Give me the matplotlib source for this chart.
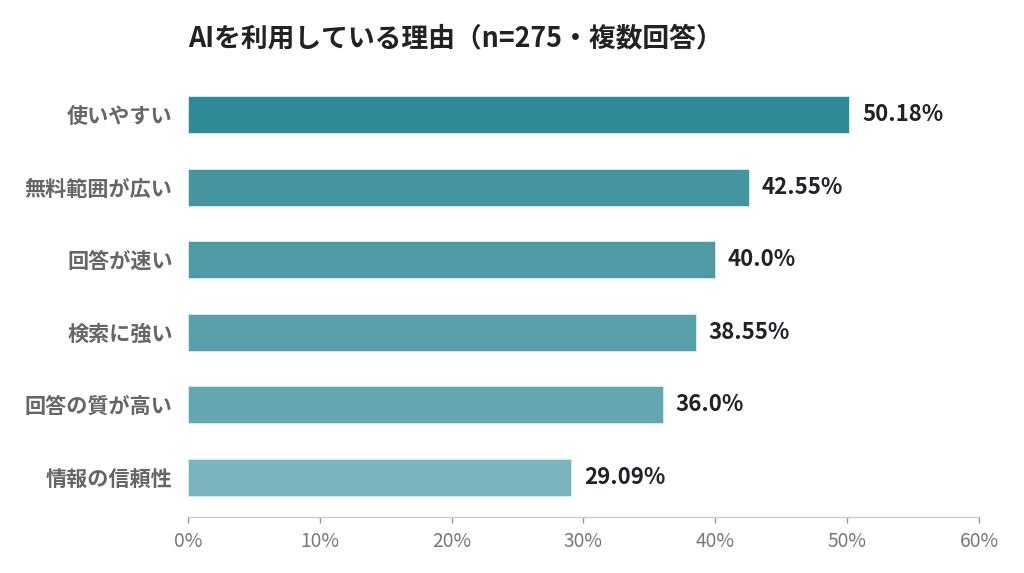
"""Horizontal bar chart: reasons for using AI (n=275, multiple answers)."""

import matplotlib

matplotlib.use("Agg")
import matplotlib.pyplot as plt
from matplotlib.ticker import FuncFormatter, MultipleLocator

plt.rcParams["font.family"] = ["Noto Sans CJK JP", "DejaVu Sans"]

TITLE = "AIを利用している理由（n=275・複数回答）"
REASONS = ["使いやすい", "無料範囲が広い", "回答が速い", "検索に強い", "回答の質が高い", "情報の信頼性"]
SHARES = [50.18, 42.55, 40.0, 38.55, 36.0, 29.09]
VALUE_LABELS = ["50.18%", "42.55%", "40.0%", "38.55%", "36.0%", "29.09%"]
BAR_COLORS = ["#2f8997", "#4595a0", "#4e9ba6", "#58a1ab", "#64a7b0", "#7bb4bc"]


def main() -> None:
    fig = plt.figure(figsize=(10.24, 5.73), dpi=100, facecolor="white")
    ax = fig.add_axes((0.1836, 0.0977, 0.7724, 0.772))

    positions = list(range(len(REASONS)))
    ax.barh(positions, SHARES, height=0.51, color=BAR_COLORS,
            edgecolor="#d8eef0", linewidth=0.6, zorder=2)

    for pos, value, label in zip(positions, SHARES, VALUE_LABELS):
        ax.annotate(label, xy=(value, pos), xytext=(9, 0), textcoords="offset points",
                    va="center", ha="left", fontsize=16, fontweight="bold",
                    color="#1f2328")

    ax.set_xlim(0, 60)
    ax.set_ylim(len(REASONS) - 1 + 0.55, -0.55)
    ax.xaxis.set_major_locator(MultipleLocator(10))
    ax.xaxis.set_major_formatter(FuncFormatter(lambda v, _: f"{v:.0f}%"))

    ax.set_yticks(positions)
    ax.set_yticklabels(REASONS, fontsize=15.2, fontweight="bold", color="#666666")
    ax.tick_params(axis="y", length=0, pad=11)
    ax.tick_params(axis="x", length=4, width=1, color="#999999",
                   labelsize=13.8, labelcolor="#777777", pad=6)

    for spine in ["top", "right", "left"]:
        ax.spines[spine].set_visible(False)
    ax.spines["bottom"].set_color("#cccccc")
    ax.spines["bottom"].set_linewidth(1)

    fig.text(0.1836, 1 - 38 / 573, TITLE, ha="left", va="center",
             fontsize=19.3, fontweight="bold", color="#222222")

    fig.savefig("out.png", dpi=100, facecolor="white")
    plt.close(fig)


if __name__ == "__main__":
    main()
